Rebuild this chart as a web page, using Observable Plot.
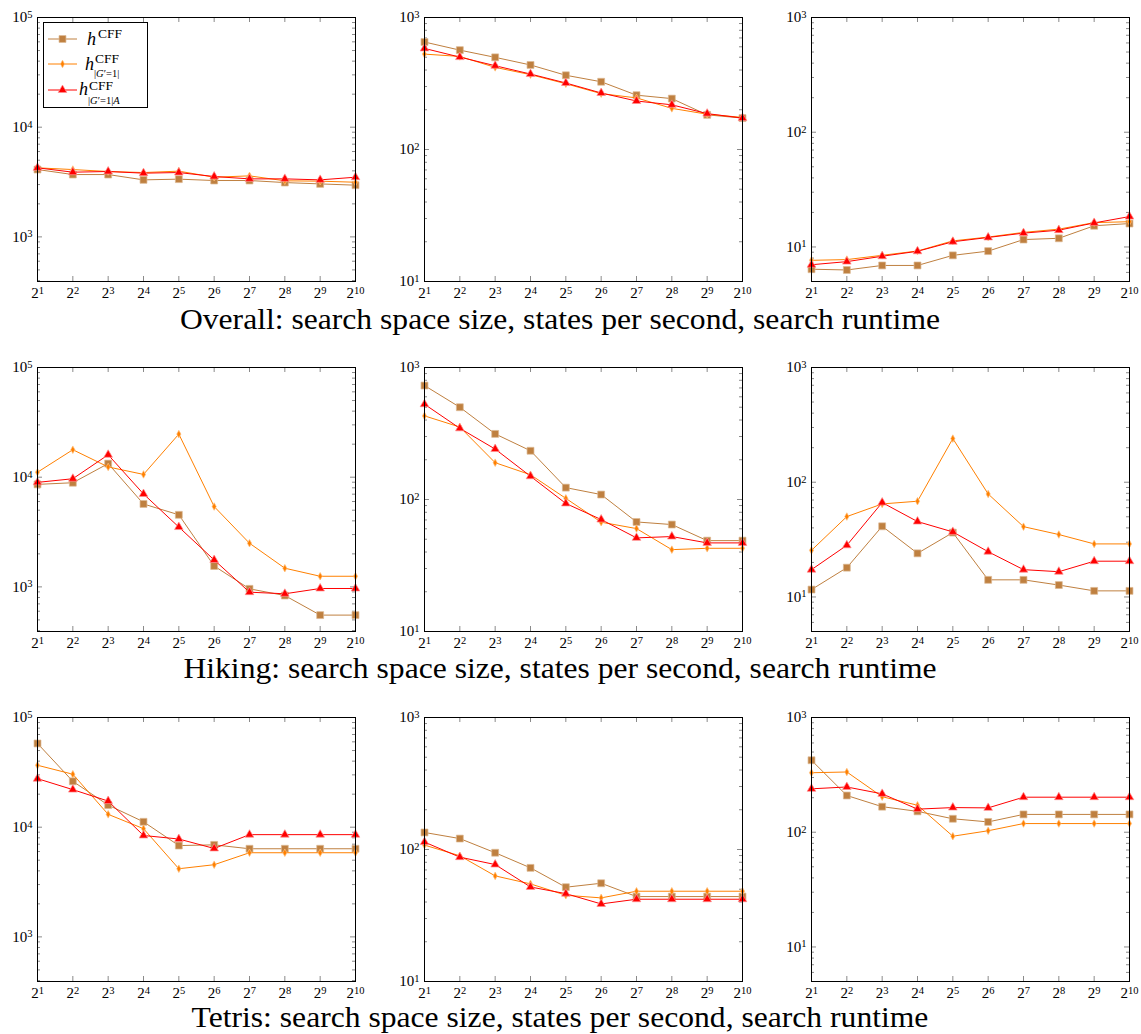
<!DOCTYPE html>
<html><head><meta charset="utf-8">
<script src="https://cdn.jsdelivr.net/npm/d3@7"></script>
<script src="https://cdn.jsdelivr.net/npm/@observablehq/plot@0.6"></script>
<style>
body{margin:0;background:#fff;}
#wrap{position:relative;width:1141px;height:1034px;overflow:hidden;font-family:"Liberation Serif",serif;}
.panel{position:absolute;}
.panel svg{overflow:visible;}
</style></head><body><div id="wrap"></div>
<script>
// ---------- data ----------
const sizes = [2, 4, 8, 16, 32, 64, 128, 256, 512, 1024];
const seriesNames = ["hCFF", "hCFF|G'=1|", "hCFF|G'=1|A"];
const seriesColors = ["#bf8040", "#ff8000", "#ff0000"];
const seriesRims = ["#dcb994", "#ffc080", "#ff9090"];
const captions = [
  "Overall: search space size, states per second, search runtime",
  "Hiking: search space size, states per second, search runtime",
  "Tetris: search space size, states per second, search runtime"
];

// Overall
const ovSpaceH = [4110, 3700, 3700, 3310, 3360, 3265, 3265, 3127, 3040, 2960];
const ovSpaceG = [4260, 4110, 3945, 3860, 3975, 3500, 3600, 3245, 3220, 3150];
const ovSpaceA = [4260, 3890, 3945, 3810, 3860, 3550, 3380, 3380, 3310, 3500];
const ovStatesH = [652, 566, 499, 437, 365, 326, 258, 243, 183, 173];
const ovStatesG = [528, 507, 419, 369, 315, 265, 246, 205, 185, 175];
const ovStatesA = [583, 501, 431, 373, 319, 268, 233, 218, 187, 173];
const ovTimeH = [6.4, 6.3, 6.9, 6.9, 8.45, 9.2, 11.6, 11.9, 15.3, 16.0];
const ovTimeG = [7.65, 7.76, 8.46, 9.22, 11.3, 12.2, 13.4, 14.3, 16.3, 16.6];
const ovTimeA = [7.0, 7.45, 8.3, 9.17, 11.1, 12.1, 13.2, 14.0, 16.2, 18.4];
// Hiking
const hkSpaceH = [8600, 8900, 13300, 5700, 4540, 1550, 960, 834, 553, 553];
const hkSpaceG = [11100, 17800, 12400, 10600, 24700, 5400, 2500, 1480, 1250, 1250];
const hkSpaceA = [8970, 9680, 16000, 7030, 3510, 1760, 895, 865, 967, 967];
const hkStatesH = [730, 500, 314, 234, 123, 109, 67.6, 64.6, 48.8, 48.8];
const hkStatesG = [430, 354, 190, 154, 102, 67.3, 60.2, 41.7, 42.7, 42.7];
const hkStatesA = [527, 346, 241, 150, 93.3, 70.5, 51.2, 52.4, 46.9, 46.9];
const hkTimeH = [11.6, 18.0, 41.3, 24.0, 36.4, 14.1, 14.1, 12.7, 11.3, 11.3];
const hkTimeG = [25.5, 50.2, 64.7, 68.3, 240, 79, 41, 35, 29, 29];
const hkTimeA = [17.3, 28.2, 66.5, 45.4, 36.9, 24.8, 17.3, 16.6, 20.5, 20.5];
// Tetris
const ttSpaceH = [58000, 26200, 15900, 11200, 6800, 6900, 6360, 6360, 6360, 6360];
const ttSpaceG = [36700, 30400, 13100, 9700, 4180, 4550, 5850, 5850, 5850, 5850];
const ttSpaceA = [27700, 22000, 17300, 8400, 7800, 6400, 8550, 8550, 8550, 8550];
const ttStatesH = [134.6, 121, 94.5, 72.6, 51.8, 55.5, 44, 44, 44, 44];
const ttStatesG = [108, 89.6, 63.1, 54.9, 45, 43, 48.3, 48.3, 48.3, 48.3];
const ttStatesA = [113.8, 87.5, 76.9, 52, 46.3, 38.7, 42, 42, 42, 42];
const ttTimeH = [424, 209, 167, 152, 131, 123, 143, 143, 143, 143];
const ttTimeG = [330, 335, 204, 172, 92.3, 103, 119, 119, 119, 119];
const ttTimeA = [239, 248, 216, 159, 164, 163, 202, 202, 202, 202];

// y axis settings per column
const spaceDomain = [392, 100000];
const spaceMajor = [1000, 10000, 100000];
const spaceMinor = [400, 500, 600, 700, 800, 900, 2000, 3000, 4000, 5000, 6000, 7000, 8000, 9000,
  20000, 30000, 40000, 50000, 60000, 70000, 80000, 90000];
const statesDomain = [10, 1000];
const statesMajor = [10, 100, 1000];
const statesMinor = [20, 30, 40, 50, 60, 70, 80, 90, 200, 300, 400, 500, 600, 700, 800, 900];
const timeDomain = [5, 1000];
const timeMajor = [10, 100, 1000];
const timeMinor = [5, 6, 7, 8, 9, 20, 30, 40, 50, 60, 70, 80, 90, 200, 300, 400, 500, 600, 700, 800, 900];

const cols = [
  {domain: spaceDomain, major: spaceMajor, minor: spaceMinor},
  {domain: statesDomain, major: statesMajor, minor: statesMinor},
  {domain: timeDomain, major: timeMajor, minor: timeMinor}
];
const panels = [
  [[ovSpaceH, ovSpaceG, ovSpaceA], [ovStatesH, ovStatesG, ovStatesA], [ovTimeH, ovTimeG, ovTimeA]],
  [[hkSpaceH, hkSpaceG, hkSpaceA], [hkStatesH, hkStatesG, hkStatesA], [hkTimeH, hkTimeG, hkTimeA]],
  [[ttSpaceH, ttSpaceG, ttSpaceA], [ttStatesH, ttStatesG, ttStatesA], [ttTimeH, ttTimeG, ttTimeA]]
];

// ---------- layout ----------
const frameX = [37, 424, 811];
const frameY = [17, 367, 717];
const W = 318, H = 264, ML = 40, MR = 12, MT = 12, MB = 30;
const captionBaseline = [329, 678, 1027];

const tallDiamond = {
  draw(context, size) {
    const r = Math.sqrt(size / Math.PI);
    const hw = r * 0.58, hh = r * 1.05;
    context.moveTo(0, -hh); context.lineTo(hw, 0); context.lineTo(0, hh); context.lineTo(-hw, 0); context.closePath();
  }
};
const symbols = ["square", tallDiamond, "triangle"];
const symR = [3.9, 3.6, 3.2];

const wrap = document.getElementById("wrap");
const SVGNS = "http://www.w3.org/2000/svg";
const tickColor = "#8a8a8a";

function supify(svg) {
  svg.querySelectorAll('g[aria-label$="tick label"] text').forEach(t => {
    const s = t.textContent;
    if (!s.includes("^")) return;
    const [b, e] = s.split("^");
    t.textContent = b;
    const ts = document.createElementNS(SVGNS, "tspan");
    ts.setAttribute("dy", "-0.42em");
    ts.setAttribute("font-size", "10.5");
    ts.textContent = e;
    t.appendChild(ts);
  });
}

for (let r = 0; r < 3; r++) {
  for (let c = 0; c < 3; c++) {
    const cfg = cols[c];
    const seriesMarks = [];
    panels[r][c].forEach((vals, k) => {
      const d = sizes.map((s, i) => ({x: s, y: vals[i], series: seriesNames[k]}));
      seriesMarks.push(Plot.line(d, {x: "x", y: "y", stroke: seriesColors[k], strokeWidth: 1}));
      seriesMarks.push(Plot.dot(d, {x: "x", y: "y", symbol: symbols[k], r: symR[k], fill: seriesColors[k],
        stroke: seriesRims[k], strokeWidth: 0.7}));
    });
    const plot = Plot.plot({
      width: ML + W + MR, height: MT + H + MB,
      marginLeft: ML, marginRight: MR, marginTop: MT, marginBottom: MB,
      x: {type: "log", base: 2, domain: [2, 1024]},
      y: {type: "log", domain: cfg.domain},
      style: {fontFamily: "'Liberation Serif', serif", fontSize: "15px", color: "#000", background: "transparent"},
      marks: [
        Plot.tickX(sizes, {x: d => d, stroke: tickColor, insetTop: H - 5}),
        Plot.tickX(sizes, {x: d => d, stroke: tickColor, insetBottom: H - 5}),
        Plot.tickY(cfg.major, {y: d => d, stroke: tickColor, insetRight: W - 5}),
        Plot.tickY(cfg.major, {y: d => d, stroke: tickColor, insetLeft: W - 5}),
        Plot.tickY(cfg.minor, {y: d => d, stroke: tickColor, insetRight: W - 3}),
        Plot.tickY(cfg.minor, {y: d => d, stroke: tickColor, insetLeft: W - 3}),
        Plot.axisX(sizes, {tickSize: 0, tickPadding: 6, label: null, tickFormat: d => "2^" + Math.round(Math.log2(d))}),
        Plot.axisY(cfg.major, {tickSize: 0, tickPadding: 5, label: null, tickFormat: d => "10^" + Math.round(Math.log10(d))}),
        ...seriesMarks,
        Plot.frame({stroke: "#000", strokeWidth: 1})
      ]
    });
    supify(plot);
    const div = document.createElement("div");
    div.className = "panel";
    div.style.left = (frameX[c] - ML) + "px";
    div.style.top = (frameY[r] - MT) + "px";
    div.appendChild(plot);
    wrap.appendChild(div);
  }
}

// ---------- captions & legend overlay ----------
const ov = document.createElementNS(SVGNS, "svg");
ov.setAttribute("width", 1141); ov.setAttribute("height", 1034);
ov.style.position = "absolute"; ov.style.left = "0"; ov.style.top = "0";
wrap.appendChild(ov);
const ovSel = d3.select(ov).style("font-family", "'Liberation Serif', serif");

captions.forEach((t, i) => {
  const txt = ovSel.append("text").attr("x", 560).attr("y", captionBaseline[i]).attr("text-anchor", "middle")
    .attr("font-size", 29).attr("fill", "#000").text(t);
  const len = txt.node().getComputedTextLength();
  txt.attr("textLength", len * 1.09).attr("lengthAdjust", "spacingAndGlyphs");
});

// legend
const lg = ovSel.append("g");
lg.append("rect").attr("x", 43.5).attr("y", 22.5).attr("width", 104).attr("height", 85)
  .attr("fill", "#fff").attr("stroke", "#000").attr("stroke-width", 1);
const rowY = [39, 64, 90];
rowY.forEach((y, k) => {
  lg.append("line").attr("x1", 48).attr("x2", 77).attr("y1", y).attr("y2", y)
    .attr("stroke", seriesColors[k]).attr("stroke-width", 1);
  const sym = k === 1 ? tallDiamond : (k === 0 ? d3.symbolSquare : d3.symbolTriangle);
  lg.append("path").attr("transform", `translate(62.5,${y})`)
    .attr("d", d3.symbol(sym, Math.PI * symR[k] * symR[k])())
    .attr("fill", seriesColors[k]).attr("stroke", seriesRims[k]).attr("stroke-width", 0.7);
});
// labels
function hLabel(hx, hy, cx, cy, sx, sy, sub) {
  lg.append("text").attr("x", hx).attr("y", hy).attr("font-size", 18).attr("font-style", "italic").text("h");
  lg.append("text").attr("x", cx).attr("y", cy).attr("font-size", 13.5).text("CFF");
  if (sub) {
    const t = lg.append("text").attr("x", sx).attr("y", sy).attr("font-size", 10.5);
    sub.forEach(([s, it]) => t.append("tspan").attr("font-style", it ? "italic" : "normal").text(s));
  }
}
hLabel(87, 45, 98, 38, 0, 0, null);
hLabel(85, 70, 95, 63, 94, 77, [["|", 0], ["G", 1], ["′=1|", 0]]);
hLabel(79, 95, 89, 90, 88, 104, [["|", 0], ["G", 1], ["′=1|", 0], ["A", 1]]);
</script></body></html>
